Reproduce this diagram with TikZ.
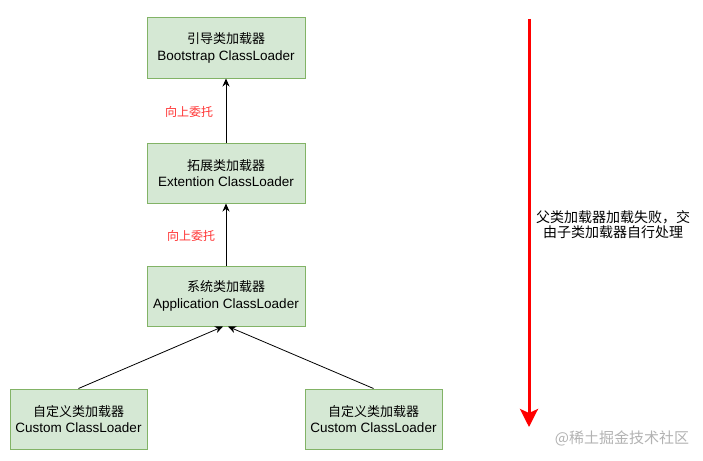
\documentclass[tikz,border=0pt]{standalone}
\usepackage{fontspec}
\setmainfont{Liberation Sans}
\newfontfamily\cjk{Noto Sans CJK SC}
\usetikzlibrary{arrows.meta}
\definecolor{boxfill}{HTML}{D5E8D4}
\definecolor{boxline}{HTML}{82B366}
\definecolor{labelred}{HTML}{FF3333}
\newcommand{\cjkname}[1]{{\cjk\fontsize{13}{16}\selectfont #1}}

\begin{document}
\begin{tikzpicture}[x=1pt,y=-1pt,
        loader/.style={draw=boxline, fill=boxfill, line width=1pt,
            minimum width=158pt, minimum height=60pt, inner sep=0pt,
            align=center, font=\fontsize{13.5}{16.5}\selectfont},
        custom/.style={loader, minimum width=137pt},
        delegate/.style={-{Stealth[length=8pt,width=7pt]}, line width=0.8pt},
        uplabel/.style={text=labelred, font=\cjk\fontsize{12}{14}\selectfont}]
    \useasboundingbox (0,0) rectangle (703,460);
    % loaders
    \node[loader] (boot) at (226,48) {\cjkname{引导类加载器}\\Bootstrap ClassLoader};
    \node[loader] (ext) at (226,173) {\cjkname{拓展类加载器}\\Extention ClassLoader};
    \node[loader] (app) at (226,296) {\cjkname{系统类加载器}\\Application ClassLoader};
    \node[custom] (custom left) at (78.5,419) {\cjkname{自定义类加载器}\\Custom ClassLoader};
    \node[custom] (custom right) at (373.5,419) {\cjkname{自定义类加载器}\\Custom ClassLoader};
    % delegation
    \draw[delegate] (ext.north) -- (boot.south);
    \draw[delegate] (app.north) -- (ext.south);
    \draw[delegate] (custom left.north) -- ([xshift=-3pt]app.south);
    \draw[delegate] (custom right.north) -- ([xshift=2pt]app.south);
    \node[uplabel] (up boot) at (189,112) {向上委托};
    \node[uplabel] (up ext) at (191,236) {向上委托};
    % failure path
    \coordinate (fail top) at (529,19);
    \coordinate (fail end) at (529,427);
    \draw[red, line width=3pt, -{Stealth[length=18pt,width=18pt,inset=4pt]}] (fail top) -- (fail end);
    \node[align=center, font=\cjk\fontsize{14}{15}\selectfont] (fail text) at (613,225)
        {父类加载器加载失败，交\\由子类加载器自行处理};
    \node[text=black!30, font=\cjk\fontsize{15}{18}\selectfont] (mark) at (622,438) {@稀土掘金技术社区};
\end{tikzpicture}
\end{document}
